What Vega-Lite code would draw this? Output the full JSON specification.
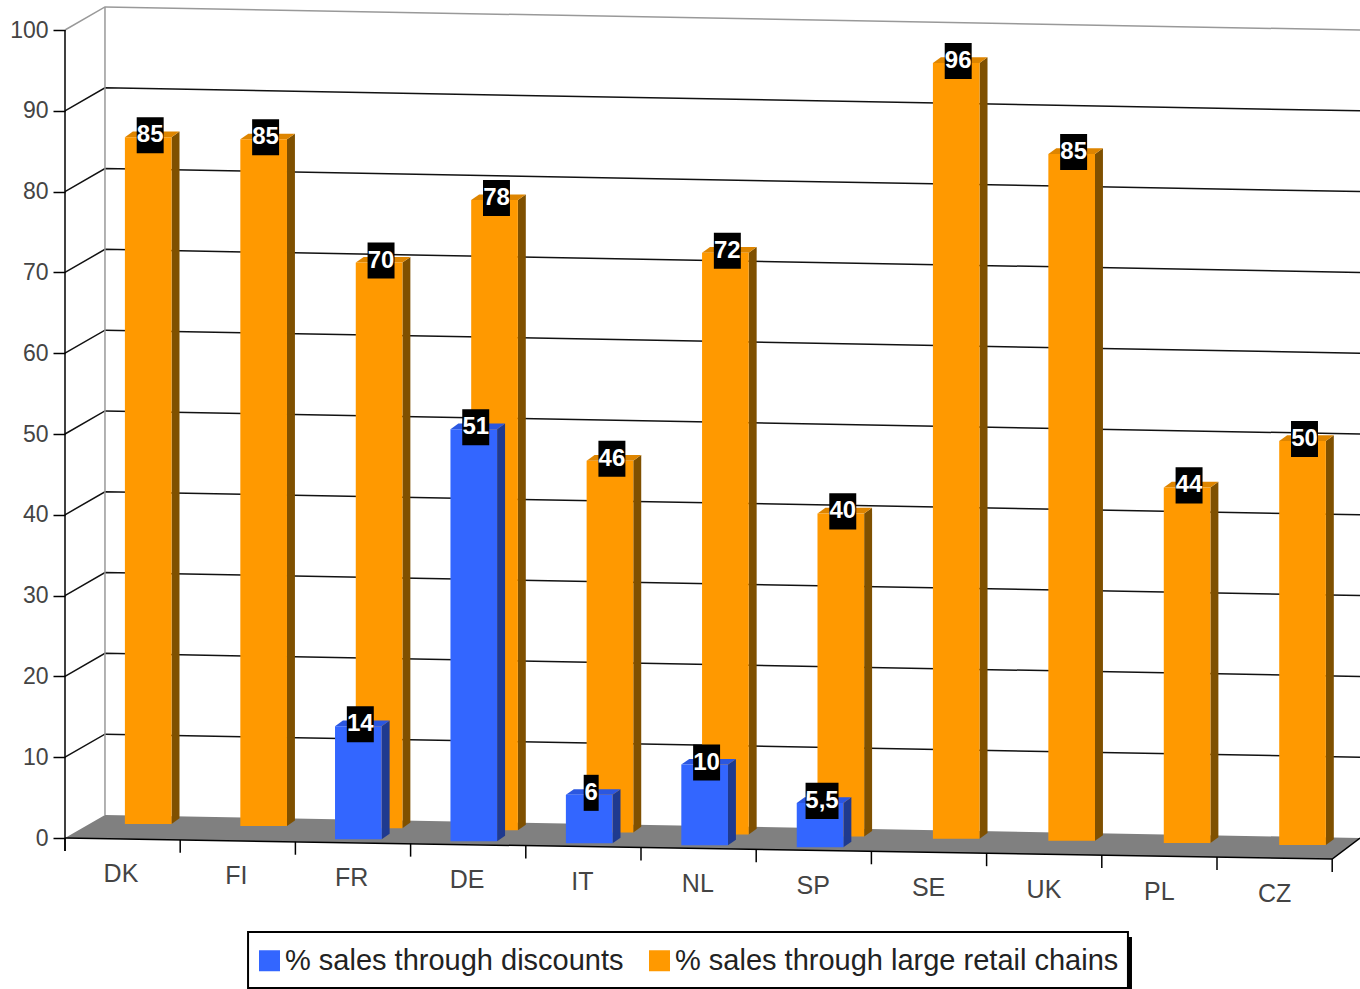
{"$schema":"https://vega.github.io/schema/vega-lite/v6.json","width":1360,"height":989,"padding":0,"autosize":{"type":"fit","contains":"padding"},"background":"white","config":{"view":{"stroke":null}},
"datasets":{"bars":[
{"country":"DK","idx":0,"series":"% sales through large retail chains","value":85},
{"country":"FI","idx":1,"series":"% sales through large retail chains","value":85},
{"country":"FR","idx":2,"series":"% sales through large retail chains","value":70},
{"country":"DE","idx":3,"series":"% sales through large retail chains","value":78},
{"country":"IT","idx":4,"series":"% sales through large retail chains","value":46},
{"country":"NL","idx":5,"series":"% sales through large retail chains","value":72},
{"country":"SP","idx":6,"series":"% sales through large retail chains","value":40},
{"country":"SE","idx":7,"series":"% sales through large retail chains","value":96},
{"country":"UK","idx":8,"series":"% sales through large retail chains","value":85},
{"country":"PL","idx":9,"series":"% sales through large retail chains","value":44},
{"country":"CZ","idx":10,"series":"% sales through large retail chains","value":50},
{"country":"FR","idx":2,"series":"% sales through discounts","value":14},
{"country":"DE","idx":3,"series":"% sales through discounts","value":51},
{"country":"IT","idx":4,"series":"% sales through discounts","value":6},
{"country":"NL","idx":5,"series":"% sales through discounts","value":10},
{"country":"SP","idx":6,"series":"% sales through discounts","value":5.5}],
"cats":[{"country":"DK","idx":0},{"country":"FI","idx":1},{"country":"FR","idx":2},{"country":"DE","idx":3},{"country":"IT","idx":4},{"country":"NL","idx":5},{"country":"SP","idx":6},{"country":"SE","idx":7},{"country":"UK","idx":8},{"country":"PL","idx":9},{"country":"CZ","idx":10}],
"ticks":[{"i":0},{"i":1},{"i":2},{"i":3},{"i":4},{"i":5},{"i":6},{"i":7},{"i":8},{"i":9},{"i":10},{"i":11}],
"levels":[{"level":10},{"level":20},{"level":30},{"level":40},{"level":50},{"level":60},{"level":70},{"level":80},{"level":90},{"level":100}]},
"encoding":{"x":{"field":"X","type":"quantitative","title":null,"axis":null,"scale":{"domain":[-0.5642,11.2413],"range":[0,1360],"nice":false,"zero":false}},
"y":{"field":"Y","type":"quantitative","title":null,"stack":null,"scale":{"domain":[-18.688,103.713],"nice":false,"zero":false},
"axis":{"values":[0,10,20,30,40,50,60,70,80,90,100],"offset":-65,"domain":false,"grid":false,"tickSize":12,"tickWidth":1.5,"tickColor":"#000","labelFontSize":23,"labelFont":"Liberation Sans","labelColor":"#444","labelPadding":5,"title":null}}},
"layer":[
{"data":{"name":"levels"},"transform":[{"calculate":"0","as":"pa"},{"calculate":"0.347","as":"pb"},{"calculate":"11.2413","as":"pc"},{"fold":["pa","pb","pc"],"as":["k","X"]},{"calculate":"datum.level+(datum.k=='pb'?2.85:0)","as":"Y"}],
"mark":{"type":"line","strokeWidth":1.5},"encoding":{"detail":{"field":"level"},"stroke":{"condition":{"test":"datum.level===100","value":"#999"},"value":"#111"}}},
{"data":{"values":[{"X":0.347,"Y":2.85,"Yb":102.85}]},"mark":{"type":"rule","color":"#999","strokeWidth":1.5},"encoding":{"y2":{"field":"Yb"}}},
{"data":{"values":[{"X":0,"Y":-1.6,"Yb":100}]},"mark":{"type":"rule","color":"#000","strokeWidth":1.5},"encoding":{"y2":{"field":"Yb"}}},
{"data":{"values":[{"pa":0,"pb":0.347,"pc":11,"pd":11.2413}]},"transform":[{"fold":["pa","pb","pc","pd"],"as":["k","X"]},{"calculate":"datum.k=='pb'?2.85:datum.k=='pc'?0.06:0","as":"Y"},{"calculate":"datum.k=='pb'?-0.08:datum.k=='pc'?-2.6:0","as":"Yb"}],
"mark":{"type":"area","color":"#808080"},"encoding":{"y2":{"field":"Yb"}}},
{"data":{"values":[{"pa":0,"pc":11,"pd":11.2413}]},"transform":[{"fold":["pa","pc","pd"],"as":["k","X"]},{"calculate":"datum.k=='pc'?-2.6:0","as":"Y"}],
"mark":{"type":"line","color":"#000","strokeWidth":1.5}},
{"data":{"name":"ticks"},"transform":[{"calculate":"datum.i","as":"X"},{"calculate":"-0.236*datum.i","as":"Y"},{"calculate":"datum.Y-1.6","as":"Yb"}],
"mark":{"type":"rule","color":"#000","strokeWidth":1.5},"encoding":{"y2":{"field":"Yb"}}},
{"data":{"name":"cats"},"transform":[{"calculate":"0.486+1.0015*datum.idx","as":"X"},{"calculate":"-4.46-0.247*datum.idx","as":"Y"}],
"mark":{"type":"text","font":"Liberation Sans","fontSize":25,"color":"#444","baseline":"middle","align":"center"},"encoding":{"text":{"field":"country"}}},
{"data":{"name":"bars"},"transform":[
{"calculate":"datum.series==='% sales through large retail chains'","as":"o"},
{"calculate":"(datum.o?0.52:0.34)+datum.idx*1.002","as":"xa"},
{"calculate":"datum.xa+0.069","as":"xb"},
{"calculate":"datum.xa+0.405","as":"xc"},
{"calculate":"datum.xc+0.069","as":"xd"},
{"calculate":"datum.o?1.733-0.26*datum.idx:0.33-0.2475*datum.idx","as":"base"},
{"calculate":"datum.base+datum.value","as":"top"},
{"calculate":"replace(''+datum.value,'.',',')","as":"label"}],
"layer":[
{"transform":[{"filter":"datum.o"},{"fold":["xc","xd"],"as":["k","X"]},{"calculate":"datum.top+(datum.k=='xd'?0.7:0)","as":"Y"},{"calculate":"datum.base+(datum.k=='xd'?0.7:0)","as":"Yb"}],
"mark":{"type":"area","color":"#7F5000"},"encoding":{"detail":{"field":"country"},"y2":{"field":"Yb"}}},
{"transform":[{"filter":"datum.o"},{"fold":["xa","xb","xc","xd"],"as":["k","X"]},{"calculate":"datum.top+(datum.k!='xa'?0.7:0)","as":"Y"},{"calculate":"datum.top+(datum.k=='xd'?0.7:0)","as":"Yb"}],
"mark":{"type":"area","color":"#DE8500"},"encoding":{"detail":{"field":"country"},"y2":{"field":"Yb"}}},
{"transform":[{"filter":"datum.o"},{"calculate":"datum.xa","as":"X"},{"calculate":"datum.top","as":"Y"}],
"mark":{"type":"rect"},"encoding":{"x2":{"field":"xc"},"y2":{"field":"base"},"color":{"field":"series","type":"nominal","scale":{"domain":["% sales through discounts","% sales through large retail chains"],"range":["#3366FF","#FF9900"]},
"legend":{"title":null,"orient":"none","legendX":246,"legendY":937,"direction":"horizontal","symbolType":"square","symbolSize":441,"symbolStrokeWidth":0,"symbolOpacity":1,"labelFont":"Liberation Sans","labelFontSize":29,"labelColor":"#222","labelLimit":600,"labelOffset":1,"columnPadding":21,"padding":9}}}},
{"transform":[{"filter":"!datum.o"},{"fold":["xc","xd"],"as":["k","X"]},{"calculate":"datum.top+(datum.k=='xd'?0.7:0)","as":"Y"},{"calculate":"datum.base+(datum.k=='xd'?0.7:0)","as":"Yb"}],
"mark":{"type":"area","color":"#1F3A8F"},"encoding":{"detail":{"field":"country"},"y2":{"field":"Yb"}}},
{"transform":[{"filter":"!datum.o"},{"fold":["xa","xb","xc","xd"],"as":["k","X"]},{"calculate":"datum.top+(datum.k!='xa'?0.7:0)","as":"Y"},{"calculate":"datum.top+(datum.k=='xd'?0.7:0)","as":"Yb"}],
"mark":{"type":"area","color":"#2B57E0"},"encoding":{"detail":{"field":"country"},"y2":{"field":"Yb"}}},
{"transform":[{"filter":"!datum.o"},{"calculate":"datum.xa","as":"X"},{"calculate":"datum.top","as":"Y"}],
"mark":{"type":"rect"},"encoding":{"x2":{"field":"xc"},"y2":{"field":"base"},"color":{"field":"series","type":"nominal"}}},
{"transform":[{"calculate":"(datum.xa+datum.xc)/2+0.017","as":"cx"},{"calculate":"length(datum.label)==1?0.065:length(datum.label)==2?0.117:0.143","as":"hw"},{"calculate":"datum.cx-datum.hw","as":"X"},{"calculate":"datum.cx+datum.hw","as":"Xe"},{"calculate":"datum.top+0.25+2.23","as":"Y"},{"calculate":"datum.top+0.25-2.23","as":"Yb"}],
"mark":{"type":"rect","color":"#000"},"encoding":{"x2":{"field":"Xe"},"y2":{"field":"Yb"}}},
{"transform":[{"calculate":"(datum.xa+datum.xc)/2+0.017","as":"X"},{"calculate":"datum.top+0.25","as":"Y"}],
"mark":{"type":"text","font":"Liberation Sans","fontSize":24,"fontWeight":"bold","color":"#fff","baseline":"middle","align":"center"},"encoding":{"text":{"field":"label"}}}
]},
{"data":{"values":[{"X":1.623,"Xe":9.262,"Y":-12.25,"Yb":-18.688}]},"mark":{"type":"rect","color":"#000"},"encoding":{"x2":{"field":"Xe"},"y2":{"field":"Yb"}}},
{"data":{"values":[{"X":1.589,"Xe":9.227,"Y":-11.634,"Yb":-18.564}]},"mark":{"type":"rect","fill":"#fff","stroke":"#000","strokeWidth":2},"encoding":{"x2":{"field":"Xe"},"y2":{"field":"Yb"}}}
]}
